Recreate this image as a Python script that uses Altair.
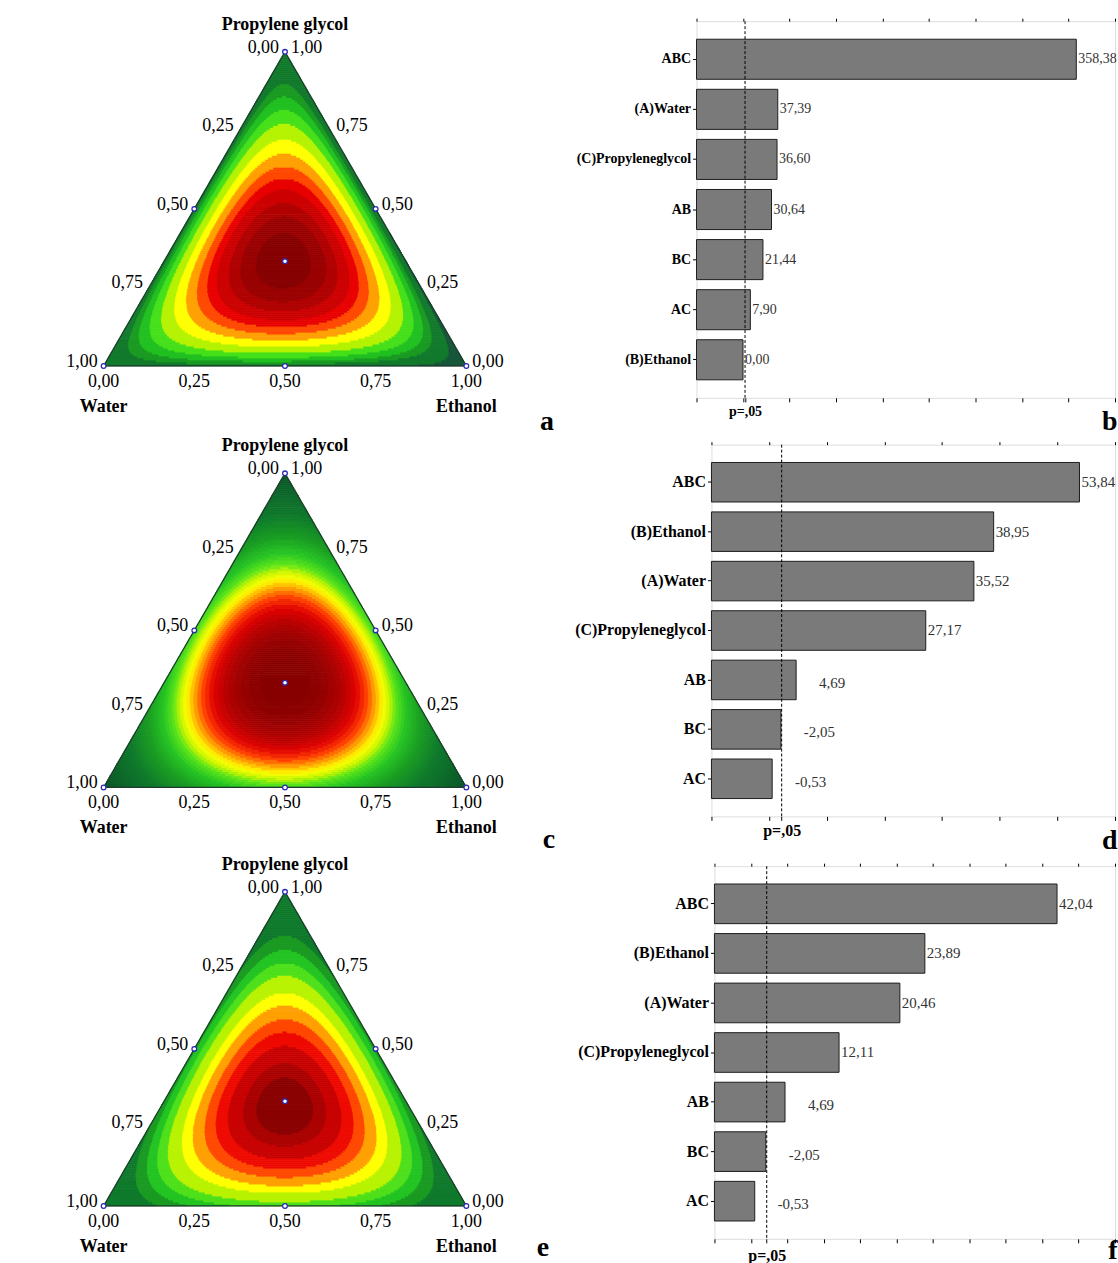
import json
import numpy as np
import pandas as pd
import altair as alt

alt.data_transformers.disable_max_rows()

SERIF = "Liberation Serif"
S3 = np.sqrt(3) / 2
PPU = 364.0  # pixels per unit side of triangle

# ---------------- Pareto data ----------------
b_terms = ["ABC", "(A)Water", "(C)Propyleneglycol", "AB", "BC", "AC", "(B)Ethanol"]
b_values = [358.38, 37.39, 36.60, 30.64, 21.44, 7.90, 0.00]
b_domain = [-50, 400]
b_ticks = [-50, 0, 50, 100, 150, 200, 250, 300, 350, 400]

d_terms = ["ABC", "(B)Ethanol", "(A)Water", "(C)Propyleneglycol", "AB", "BC", "AC"]
d_values = [53.84, 38.95, 35.52, 27.17, 4.69, -2.05, -0.53]
d_domain = [-10, 60]
d_ticks = [-10, 0, 10, 20, 30, 40, 50, 60]

f_terms = ["ABC", "(B)Ethanol", "(A)Water", "(C)Propyleneglycol", "AB", "BC", "AC"]
f_values = [42.04, 23.89, 20.46, 12.11, 4.69, -2.05, -0.53]
f_domain = [-5, 50]
f_ticks = [-5, 0, 5, 10, 15, 20, 25, 30, 35, 40, 45, 50]

p_critical = 2.179

# ---------------- Ternary data ----------------
tick_fracs = [0.0, 0.25, 0.5, 0.75, 1.0]
design_points = [(1, 0, 0), (0, 1, 0), (0, 0, 1), (0.5, 0.5, 0),
                 (0, 0.5, 0.5), (0.5, 0, 0.5), (1 / 3, 1 / 3, 1 / 3)]
# Scheffe special cubic: Water, Ethanol, PG, W*E, E*PG, W*PG, W*E*PG
a_coef = [0.06, 0.0, 0.06, 0.20, 0.06, 0.08, 27.0]
# contour boundaries read on the vertical axis (PG fraction, Water = Ethanol)
a_boundary_pg = [0.899, 0.858, 0.816, 0.772, 0.722, 0.677, 0.636, 0.598, 0.563, 0.519, 0.478, 0.424]
a_low_level = 0.04
a_colors = ["#17563a", "#127a2c", "#1a9a22", "#21c021", "#45e01a", "#b4f200", "#ffff00",
            "#ffa000", "#ff4800", "#e80000", "#cc0000", "#b00000", "#990000", "#860000"]

c_coef = [0.0, 0.0, 0.0, 1.0, 1.0, 1.0, 2.43]
c_stops = [0.0, 0.30, 0.45, 0.55, 0.62, 0.66, 0.70, 0.745, 0.79, 0.84, 0.90, 0.96, 1.0]
c_stop_colors = ["#0a5428", "#0f7a2c", "#1a9e22", "#26c424", "#5ce61a", "#c8f500", "#ffff00",
                 "#ffa500", "#ff4000", "#e00000", "#b00000", "#900000", "#850000"]
c_nbands = 50

e_coef = [0.0, 0.0, 0.0, 0.75, 0.5, 0.5, 8.1]
e_boundary_pg = [0.861, 0.816, 0.775, 0.734, 0.680, 0.639, 0.595, 0.554, 0.510, 0.455, 0.410]
e_colors = ["#0f7a2c", "#1a9a22", "#22c422", "#4ee01a", "#b8f200", "#ffff00",
            "#ffa000", "#ff4800", "#ee0a00", "#c80000", "#aa0000", "#8a0000"]


def fmt(v):
    return f"{v:.2f}".replace(".", ",")


def tern_xy(w, e, p):
    return e + p / 2.0, p * S3


def surface(coef, w, e, p):
    bw, be, bp, bwe, bep, bwp, bwep = coef
    return bw * w + be * e + bp * p + bwe * w * e + bep * e * p + bwp * w * p + bwep * w * e * p


def levels_from_axis(coef, pg_list):
    return [float(surface(coef, (1 - p) / 2, (1 - p) / 2, p)) for p in pg_list]


def band_rows(coef, levels, colors, nrows=158, res=800):
    recs = []
    dy = S3 / nrows
    for j in range(nrows):
        y0, y1 = j * dy, (j + 1) * dy
        yc = 0.5 * (y0 + y1)
        p = yc / S3
        xl, xr = p / 2, 1 - p / 2
        n = max(2, int((xr - xl) * res) + 2)
        xs = np.linspace(xl, xr, n)
        e = np.clip(xs - p / 2, 0, 1)
        w = np.clip(1 - e - p, 0, 1)
        v = surface(coef, w, e, p)
        band = np.searchsorted(levels, v, side="right")
        ch = np.nonzero(np.diff(band))[0]
        starts = [xl] + list((xs[ch] + xs[ch + 1]) / 2)
        ends = starts[1:] + [xr]
        bids = [band[0]] + list(band[ch + 1])
        for s, t, b in zip(starts, ends, bids):
            recs.append((float(s), float(t), float(y0), float(y1), colors[int(b)]))
    return pd.DataFrame(recs, columns=["x", "x2", "y", "y2", "col"])


def interp_colors(stops, cols, n):
    rgb = np.array([[int(c[i:i + 2], 16) for i in (1, 3, 5)] for c in cols], float)
    out = []
    for i in range(n):
        t = (i + 0.5) / n
        r = [np.interp(t, stops, rgb[:, k]) for k in range(3)]
        out.append("#%02x%02x%02x" % tuple(int(round(x)) for x in r))
    return out


def ternary_chart(bands, H, yb, letter, letter_x, letter_y):
    W = 560
    xs = alt.Scale(domain=[-103 / PPU, (W - 103) / PPU], nice=False, zero=False)
    ys = alt.Scale(domain=[-(H - yb) / PPU, yb / PPU], nice=False, zero=False)
    X = alt.X("x:Q", scale=xs, axis=None)
    Y = alt.Y("y:Q", scale=ys, axis=None)

    fill = alt.Chart(bands).mark_rect(strokeWidth=0.8).encode(
        x=X, x2="x2:Q", y=Y, y2="y2:Q",
        color=alt.Color("col:N", scale=None),
        stroke=alt.Stroke("col:N", scale=None),
    )

    verts = [(1, 0, 0), (0, 1, 0), (0, 0, 1), (1, 0, 0)]
    odf = pd.DataFrame([dict(zip(("x", "y"), tern_xy(*v)), k=i) for i, v in enumerate(verts)])
    outline = alt.Chart(odf).mark_line(color="#1f3b2b", strokeWidth=1.2).encode(
        x=X, y=Y, order="k:Q")

    pdf = pd.DataFrame([dict(zip(("x", "y"), tern_xy(*v))) for v in design_points])
    pts = alt.Chart(pdf).mark_circle(size=22, fill="white", stroke="#2b2bb0",
                                      strokeWidth=1.3, opacity=1).encode(x=X, y=Y)

    def lbl_df(comps, vals):
        rows = []
        for c, v in zip(comps, vals):
            x, y = tern_xy(*c)
            rows.append({"x": x, "y": y, "t": fmt(v)})
        return pd.DataFrame(rows)

    left = lbl_df([(w, 0, 1 - w) for w in tick_fracs], tick_fracs)
    right = lbl_df([(0, 1 - p, p) for p in tick_fracs], tick_fracs)
    bottom = lbl_df([(1 - e, e, 0) for e in tick_fracs], tick_fracs)
    tstyle = dict(font=SERIF, fontSize=18, color="black")
    l_left = alt.Chart(left).mark_text(align="right", baseline="middle", dx=-6, dy=-4, **tstyle).encode(
        x=X, y=Y, text="t:N")
    l_right = alt.Chart(right).mark_text(align="left", baseline="middle", dx=6, dy=-4, **tstyle).encode(
        x=X, y=Y, text="t:N")
    l_bottom = alt.Chart(bottom).mark_text(align="center", baseline="middle", dy=16, **tstyle).encode(
        x=X, y=Y, text="t:N")

    top_t = pd.DataFrame([{"x": tern_xy(0, 0, 1)[0], "y": tern_xy(0, 0, 1)[1], "t": "Propylene glycol"}])
    bot_t = pd.DataFrame([{"x": tern_xy(1, 0, 0)[0], "y": 0.0, "t": "Water"},
                          {"x": tern_xy(0, 1, 0)[0], "y": 0.0, "t": "Ethanol"}])
    bstyle = dict(font=SERIF, fontSize=18, fontWeight="bold", color="black", align="center",
                  baseline="middle")
    t_top = alt.Chart(top_t).mark_text(dy=-27, **bstyle).encode(x=X, y=Y, text="t:N")
    t_bot = alt.Chart(bot_t).mark_text(dy=41, **bstyle).encode(x=X, y=Y, text="t:N")

    let = alt.Chart(pd.DataFrame({"t": [letter]})).mark_text(
        font=SERIF, fontSize=28, fontWeight="bold", color="black", align="center",
        baseline="alphabetic").encode(text="t:N", x=alt.value(letter_x), y=alt.value(letter_y))

    return alt.layer(fill, outline, pts, l_left, l_right, l_bottom, t_top, t_bot, let).properties(
        width=W, height=H, view=alt.ViewBackground(stroke="transparent"))


def pareto(terms, values, domain, ticks, letter, width, height, top_ext, left_ext,
           lab_fs, val_fs, p_pad, letter_y, far_terms, far_dx):
    df = pd.DataFrame({"term": terms, "value": values})
    df["size"] = df["value"].abs()
    df["label"] = [fmt(v) for v in values]
    xs = alt.Scale(domain=domain, nice=False, zero=False)
    ys = alt.Scale(domain=terms, paddingInner=0.2, paddingOuter=0.36)
    yenc = alt.Y("term:N", scale=ys, sort=None, title=None,
                 axis=alt.Axis(labelFont=SERIF, labelFontSize=lab_fs, labelFontWeight="bold",
                               labelColor="black", tickSize=4, tickColor="black", domain=False,
                               grid=False, labelPadding=2, minExtent=left_ext, maxExtent=left_ext,
                               labelLimit=400))
    bottom_axis = alt.Axis(
        orient="bottom", values=ticks + [p_critical],
        labelExpr="(datum.value > 2 && datum.value < 2.5) ? 'p=,05' : ''",
        tickSize=4, tickColor="black", domain=False, grid=False,
        labelFont=SERIF, labelFontSize=lab_fs, labelFontWeight="bold", labelColor="black",
        labelPadding=p_pad, labelOverlap=False, labelFlush=False, labelBound=False,
        title=letter, titleFont=SERIF, titleFontSize=28, titleFontWeight="bold",
        titleColor="black", titleAnchor="end", titleAlign="right", titleBaseline="alphabetic",
        titleX=width + 2, titleY=letter_y)
    bars = alt.Chart(df).mark_bar(fill="#7a7a7a", stroke="#1e1e1e", strokeWidth=1).encode(
        x=alt.X("size:Q", scale=xs, axis=bottom_axis),
        x2=alt.datum(domain[0]),
        y=yenc)
    top = alt.Chart(df).mark_point(opacity=0).encode(
        x=alt.X("size:Q", scale=xs, axis=alt.Axis(orient="top", values=ticks, labels=False,
                                                  tickSize=3, tickColor="black", domain=False,
                                                  grid=False, title=None, minExtent=top_ext,
                                                  maxExtent=top_ext)),
        y=yenc)
    rule = alt.Chart(pd.DataFrame({"p": [p_critical]})).mark_rule(
        color="black", strokeDash=[3, 2], strokeWidth=1).encode(
        x=alt.X("p:Q", scale=xs, axis=None))
    far_js = json.dumps(far_terms)
    vstyle = dict(font=SERIF, fontSize=val_fs, color="#333333", align="left", baseline="middle")
    near = alt.Chart(df).transform_filter(f"indexof({far_js}, datum.term) < 0").mark_text(
        dx=2, limit=40, ellipsis="\u200b", **vstyle).encode(
        x=alt.X("size:Q", scale=xs, axis=None), y=yenc, text="label:N")
    far = alt.Chart(df).transform_filter(f"indexof({far_js}, datum.term) >= 0").mark_text(
        dx=far_dx, dy=3, **vstyle).encode(
        x=alt.X("size:Q", scale=xs, axis=None), y=yenc, text="label:N")
    return alt.layer(bars, top, rule, near, far).resolve_axis(x="independent").properties(
        width=width, height=height)


a_levels = [a_low_level] + levels_from_axis(a_coef, a_boundary_pg)
a_bands = band_rows(a_coef, a_levels, a_colors)
e_levels = levels_from_axis(e_coef, e_boundary_pg)
e_bands = band_rows(e_coef, e_levels, e_colors)
c_center = surface(c_coef, 1 / 3, 1 / 3, 1 / 3)
c_levels = [(i + 1) / c_nbands * c_center for i in range(c_nbands - 1)]
c_colors = interp_colors(c_stops, c_stop_colors, c_nbands)
c_bands = band_rows(c_coef, c_levels, c_colors)

# row 1: plot tops at y=20, frame bottom 398, triangle base 366
row1 = alt.hconcat(
    ternary_chart(a_bands, 378, 346, "a", 548, 410),
    pareto(b_terms, b_values, b_domain, b_ticks, "b", 420, 378, 18, 136, 14, 14, 3, 32, [], 2),
    spacing=0)
# row 2: plot tops at ~442, triangle base 786
row2 = alt.hconcat(
    ternary_chart(c_bands, 373, 344, "c", 550, 405),
    pareto(d_terms, d_values, d_domain, d_ticks, "d", 405, 373, 1, 151, 16, 15, 2, 32,
           ["AB", "BC", "AC"], 23),
    spacing=0)
# row 3: plot tops at ~864, triangle base 1205
row3 = alt.hconcat(
    ternary_chart(e_bands, 374, 341, "e", 544, 391),
    pareto(f_terms, f_values, f_domain, f_ticks, "f", 402, 374, 8, 154, 16, 15, 5, 20,
           ["AB", "BC", "AC"], 23),
    spacing=0)

chart = alt.vconcat(row1, row2, row3, spacing=0, padding=0).configure_view(
    stroke="black", strokeWidth=1).configure(font=SERIF, background="white")

chart.save("out.html", embed_options={"renderer": "svg", "actions": False})
